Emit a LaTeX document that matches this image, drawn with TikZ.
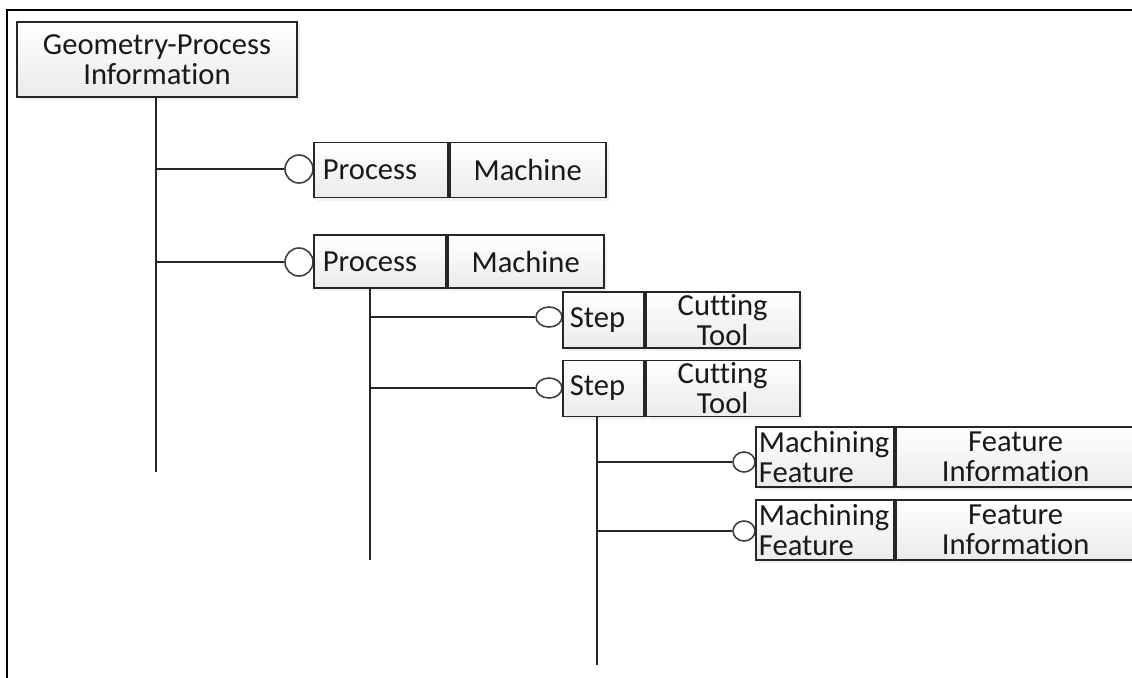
\documentclass[tikz,border=0pt]{standalone}
\usepackage{fontspec}
\setmainfont[Ligatures=NoCommon]{Carlito}
\usetikzlibrary{positioning,shapes.geometric,shadows}

\tikzset{
  cell/.style={draw=black!85, line width=0.9pt, top color=white, bottom color=black!8,
    drop shadow={opacity=0.12, shadow xshift=1.5pt, shadow yshift=-1.5pt},
    inner sep=0pt, font=\fontsize{15.3}{15}\selectfont, align=center, text=black!90},
  joint/.style={ellipse, draw=black!75, line width=0.8pt, fill=white, inner sep=0pt},
  link/.style={line width=1pt, black!85},
}

\begin{document}
\begin{tikzpicture}[x=0.5pt,y=-0.5pt]
  \useasboundingbox (0,0) rectangle (1132,677);
  \draw[line width=1pt] (7,700) -- (7,10) -- (1150,10);

  % Root
  \node[cell, minimum width=140pt, minimum height=37.5pt] (root) at (157,59.5) {Geometry-Process\\Information};
  \coordinate (rootEnd) at (156,472);
  \draw[link] (root.south -| rootEnd) -- (rootEnd);

  % Processes
  \node[joint, minimum width=14pt, minimum height=14pt] (jp1) at (299,169) {};
  \node[cell, anchor=west, minimum height=27.5pt, inner xsep=4.5pt, text width=58pt, align=left] (proc1) at (313,170) {Process};
  \node[cell, right=0pt of proc1, minimum height=27.5pt, minimum width=78pt] (mach1) {Machine};
  \draw[link] (rootEnd |- jp1) -- (jp1.west);

  \node[joint, minimum width=14pt, minimum height=14pt] (jp2) at (299,262) {};
  \node[cell, anchor=west, minimum height=26.5pt, inner xsep=4.5pt, text width=57pt, align=left] (proc2) at (313,261.5) {Process};
  \node[cell, right=0pt of proc2, minimum height=26.5pt, minimum width=78pt] (mach2) {Machine};
  \draw[link] (rootEnd |- jp2) -- (jp2.west);

  \coordinate (procEnd) at (370,560);
  \draw[link] (proc2.south -| procEnd) -- (procEnd);

  % Steps
  \node[joint, minimum width=13pt, minimum height=10pt] (js1) at (549,317) {};
  \node[cell, anchor=west, minimum height=28pt, inner xsep=3.5pt, text width=33.5pt, align=left] (step1) at (562,320) {Step};
  \node[cell, right=0pt of step1, minimum height=28pt, minimum width=77pt] (tool1) {Cutting\\Tool};
  \draw[link] (procEnd |- js1) -- (js1.west);

  \node[joint, minimum width=13pt, minimum height=10pt] (js2) at (549,388) {};
  \node[cell, anchor=west, minimum height=28pt, inner xsep=3.5pt, text width=33.5pt, align=left] (step2) at (562,388.5) {Step};
  \node[cell, right=0pt of step2, minimum height=28pt, minimum width=77pt] (tool2) {Cutting\\Tool};
  \draw[link] (procEnd |- js2) -- (js2.west);

  \coordinate (stepEnd) at (597,665);
  \draw[link] (step2.south -| stepEnd) -- (stepEnd);

  % Machining features
  \node[joint, minimum width=11pt, minimum height=10pt] (jf1) at (744,462) {};
  \node[cell, anchor=west, minimum height=30pt, inner xsep=1.5pt, text width=66pt, align=left] (feat1) at (755,457) {Machining\\Feature};
  \node[cell, right=0pt of feat1, minimum height=30pt, minimum width=124pt, text width=118pt] (info1) {\hspace*{-4pt}Feature\\\hspace*{-4pt}Information};
  \draw[link] (stepEnd |- jf1) -- (jf1.west);

  \node[joint, minimum width=11pt, minimum height=10pt] (jf2) at (744,531) {};
  \node[cell, anchor=west, minimum height=30pt, inner xsep=1.5pt, text width=66pt, align=left] (feat2) at (755,530) {Machining\\Feature};
  \node[cell, right=0pt of feat2, minimum height=30pt, minimum width=124pt, text width=118pt] (info2) {\hspace*{-4pt}Feature\\\hspace*{-4pt}Information};
  \draw[link] (stepEnd |- jf2) -- (jf2.west);
\end{tikzpicture}
\end{document}
